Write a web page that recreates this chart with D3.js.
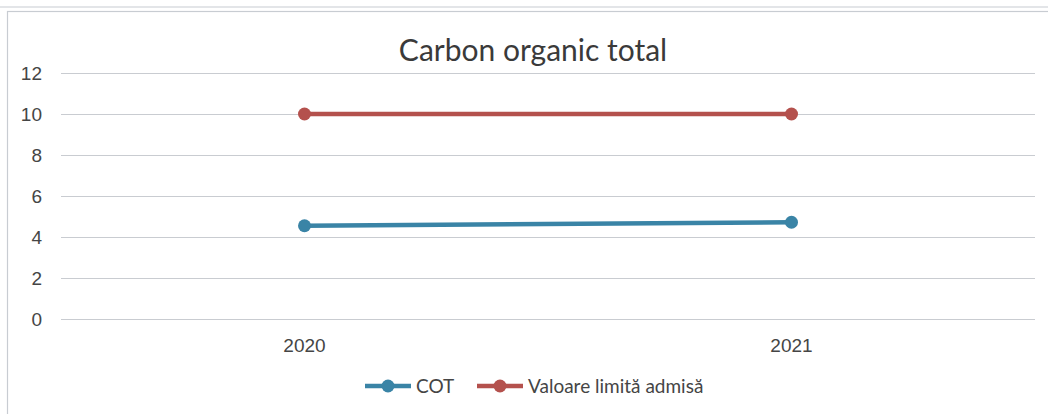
<!DOCTYPE html>
<html>
<head>
<meta charset="utf-8">
<script src="https://cdn.jsdelivr.net/npm/d3@7"></script>
<style>
  body { margin: 0; background: #fff; }
  svg { display: block; font-family: Lato, "Open Sans", sans-serif; }
</style>
</head>
<body>
<div id="chart"></div>
<script>
const years = ["2020", "2021"];
const cotValues = [4.55, 4.72];
const limitValues = [10, 10];
const yTicks = [0, 2, 4, 6, 8, 10, 12];
const seriesNames = ["COT", "Valoare limită admisă"];
const seriesColors = ["#3a84a6", "#b4514d"];

const width = 1048, height = 414;
const margin = { left: 61, right: 13, top: 73, bottom: 95 };

var svg = d3.select("#chart")
    .append("svg")
    .attr("width", width)
    .attr("height", height);

// scan borders
svg.append("line").attr("x1", 0).attr("x2", width).attr("y1", 7).attr("y2", 7)
    .style("stroke", "#c8ccd2").style("stroke-width", 1.2);
svg.append("rect").attr("x", 7.5).attr("y", 11.5).attr("width", width + 10).attr("height", height)
    .style("fill", "none").style("stroke", "#c8ccd2").style("stroke-width", 1.2);

var xscale = d3.scaleBand()
    .domain(years)
    .range([margin.left, width - margin.right]);

var yscale = d3.scaleLinear()
    .domain([0, 12])
    .range([height - margin.bottom, margin.top]);

// gridlines
svg.append("g")
    .attr("transform", `translate(${margin.left},0)`)
    .call(d3.axisLeft(yscale).tickValues(yTicks)
        .tickSize(-(width - margin.left - margin.right)).tickPadding(19))
    .call(g => g.select(".domain").remove())
    .call(g => g.selectAll("line").style("stroke", "#c9ccd1").style("stroke-width", 1.2))
    .call(g => g.selectAll("text").style("fill", "#454545").style("font-size", "19px"));

// x labels
svg.append("g")
    .attr("transform", `translate(0,${yscale(0)})`)
    .call(d3.axisBottom(xscale).tickSize(0).tickPadding(20))
    .call(g => g.select(".domain").remove())
    .call(g => g.selectAll("text").style("fill", "#454545").style("font-size", "19px"));

svg.append("text")
    .attr("x", 533)
    .attr("y", 61)
    .style("text-anchor", "middle")
    .style("font-size", "30px")
    .style("fill", "#3a3a3a")
    .text("Carbon organic total");

var series = [cotValues, limitValues];
var line = d3.line()
    .x((d, i) => xscale(years[i]) + xscale.bandwidth() / 2)
    .y(d => yscale(d));

series.forEach(function (vals, s) {
    svg.append("path")
        .datum(vals)
        .attr("d", line)
        .style("fill", "none")
        .style("stroke", seriesColors[s])
        .style("stroke-width", 4.5)
        .style("stroke-linecap", "round");
    svg.selectAll(null)
        .data(vals)
        .enter()
        .append("circle")
        .attr("cx", (d, i) => xscale(years[i]) + xscale.bandwidth() / 2)
        .attr("cy", d => yscale(d))
        .attr("r", 6.5)
        .style("fill", seriesColors[s]);
});

// legend
var legendX = [365, 477];
seriesNames.forEach(function (name, s) {
    var g = svg.append("g").attr("transform", `translate(${legendX[s]},386)`);
    g.append("line").attr("x1", 0).attr("x2", 46).attr("y1", 0).attr("y2", 0)
        .style("stroke", seriesColors[s]).style("stroke-width", 4.5);
    g.append("circle").attr("cx", 23).attr("cy", 0).attr("r", 6.5).style("fill", seriesColors[s]);
    g.append("text").attr("x", 51).attr("y", 7)
        .style("font-size", "19px").style("fill", "#454545").text(name);
});
</script>
</body>
</html>
